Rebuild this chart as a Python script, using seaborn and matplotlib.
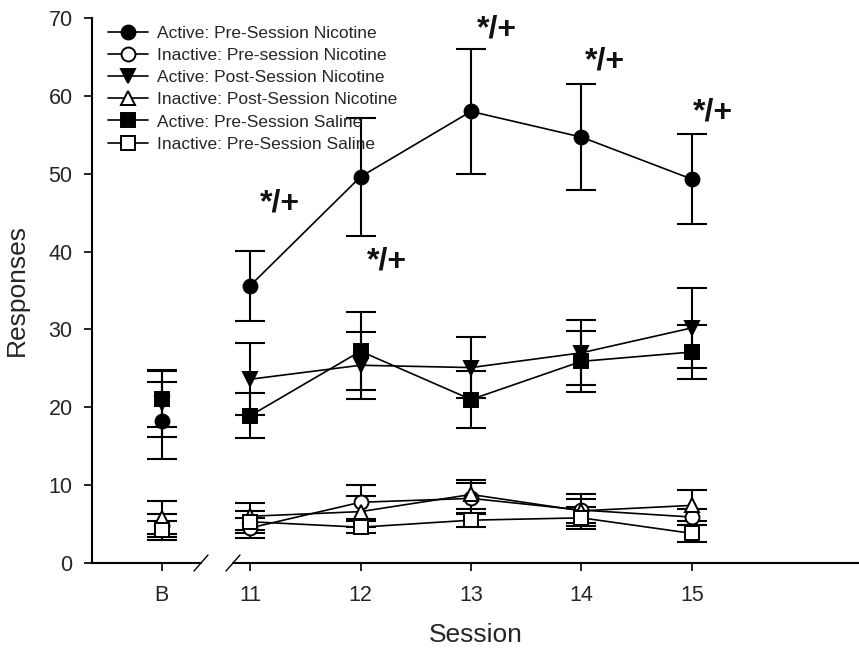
import numpy as np
import pandas as pd
import matplotlib
matplotlib.use("Agg")
import matplotlib.pyplot as plt
import matplotlib.transforms as mtransforms
import seaborn as sns

# ---------------- data ----------------
sessions = ["B", "11", "12", "13", "14", "15"]

act_pre_nic = [18.3, 35.6, 49.6, 58.0, 54.7, 49.3]
act_pre_nic_err = [4.9, 4.5, 7.6, 8.0, 6.8, 5.8]
inact_pre_nic = [4.8, 4.5, 7.8, 8.3, 6.8, 5.9]
inact_pre_nic_err = [1.5, 1.3, 2.2, 2.0, 2.1, 1.0]
act_post_nic = [20.5, 23.6, 25.4, 25.1, 27.0, 30.2]
act_post_nic_err = [4.3, 4.6, 4.3, 3.9, 4.2, 5.1]
inact_post_nic = [5.8, 6.0, 6.6, 8.8, 6.7, 7.4]
inact_post_nic_err = [2.1, 1.7, 2.0, 1.9, 1.5, 2.0]
act_pre_sal = [21.1, 18.9, 27.2, 21.0, 25.9, 27.1]
act_pre_sal_err = [3.6, 2.9, 5.0, 3.6, 3.9, 3.5]
inact_pre_sal = [4.2, 5.3, 4.6, 5.5, 5.8, 3.8]
inact_pre_sal_err = [1.2, 1.4, 0.8, 0.9, 1.4, 1.1]

series_labels = [
    "Active: Pre-Session Nicotine",
    "Inactive: Pre-session Nicotine",
    "Active: Post-Session Nicotine",
    "Inactive: Post-Session Nicotine",
    "Active: Pre-Session Saline",
    "Inactive: Pre-Session Saline",
]
sig_label = "*/+"
sig_sessions = ["11", "12", "13", "14", "15"]

# ---------------- layout / style ----------------
sns.set_style("ticks")
plt.rcParams["font.family"] = ["Liberation Sans", "DejaVu Sans"]

x_pos = {"B": 10.2, "11": 11, "12": 12, "13": 13, "14": 14, "15": 15}
xs = np.array([x_pos[s] for s in sessions])

W, H = 859, 648
fig = plt.figure(figsize=(W / 100, H / 100), dpi=100)
ax = fig.add_axes([92 / W, 85 / H, 1 - 92 / W, 545 / H])

series = [
    (act_pre_nic, act_pre_nic_err, "o", "black", 10),
    (inact_pre_nic, inact_pre_nic_err, "o", "white", 10),
    (act_post_nic, act_post_nic_err, "v", "black", 10.5),
    (inact_post_nic, inact_post_nic_err, "^", "white", 10.5),
    (act_pre_sal, act_pre_sal_err, "s", "black", 9.5),
    (inact_pre_sal, inact_pre_sal_err, "s", "white", 9.5),
]

for (vals, errs, mk, fc, ms), lab in zip(series, series_labels):
    vals = np.asarray(vals)
    errs = np.asarray(errs)
    ax.errorbar(xs, vals, yerr=errs, fmt="none", ecolor="black",
                elinewidth=1.5, capsize=10.5, capthick=1.5, zorder=2)
    df = pd.DataFrame({"x": xs[1:], "y": vals[1:]})
    sns.lineplot(data=df, x="x", y="y", ax=ax, color="black", linewidth=1.2,
                 marker=mk, markersize=ms, markerfacecolor=fc,
                 markeredgecolor="black", markeredgewidth=1.4,
                 label=lab, zorder=3)
    dfb = pd.DataFrame({"x": xs[:1], "y": vals[:1]})
    sns.lineplot(data=dfb, x="x", y="y", ax=ax, color="black", linewidth=1.2,
                 marker=mk, markersize=ms, markerfacecolor=fc,
                 markeredgecolor="black", markeredgewidth=1.4,
                 legend=False, zorder=3)

# significance annotations
sig_offsets = {"11": (0.27, 46.2), "12": (0.24, 38.7), "13": (0.23, 68.5),
               "14": (0.21, 64.4), "15": (0.19, 57.8)}
for s in sig_sessions:
    dx, yy = sig_offsets[s]
    ax.text(x_pos[s] + dx, yy, sig_label, ha="center", va="center",
            fontsize=23, fontweight="bold", color="#111111")

# axes
xlo = 11 - (250 - 92) / 110.5
xhi = 11 + (859 - 250) / 110.5
ax.set_xlim(xlo, xhi)
ax.set_ylim(0, 70)
ax.set_yticks(np.arange(0, 71, 10))
ax.set_xticks(xs)
ax.set_xticklabels(sessions)
ax.tick_params(axis="both", labelsize=15.5, length=6, width=1.2, color="black",
               direction="out", pad=8)
ax.tick_params(axis="x", pad=10)
ax.set_xlabel("Session", fontsize=19, labelpad=12)
ax.set_ylabel("Responses", fontsize=19, labelpad=14)

for sp in ["top", "right", "bottom"]:
    ax.spines[sp].set_visible(False)
ax.spines["left"].set_linewidth(1.5)
ax.spines["left"].set_color("black")

# broken x axis
trans = mtransforms.blended_transform_factory(ax.transData, ax.transAxes)
b1 = 11 - (250 - 201) / 110.5
b2 = 11 - (250 - 233) / 110.5
ax.plot([xlo, b1], [0, 0], transform=trans, color="black", lw=1.5, clip_on=False)
ax.plot([b2, xhi], [0, 0], transform=trans, color="black", lw=1.5, clip_on=False)
dxs = 7 / 110.5
dys = 8 / 545
for bx in (b1, b2):
    ax.plot([bx - dxs, bx + dxs], [-dys, dys], transform=trans, color="black",
            lw=1.0, clip_on=False)

leg = ax.legend(loc="upper left", bbox_to_anchor=(108 / W, 1 - 26 / H),
                bbox_transform=fig.transFigure, frameon=False, fontsize=12.5,
                labelspacing=0.4, handlelength=2.3, handletextpad=0.5,
                borderpad=0, borderaxespad=0)

fig.savefig("out.png", dpi=100)
